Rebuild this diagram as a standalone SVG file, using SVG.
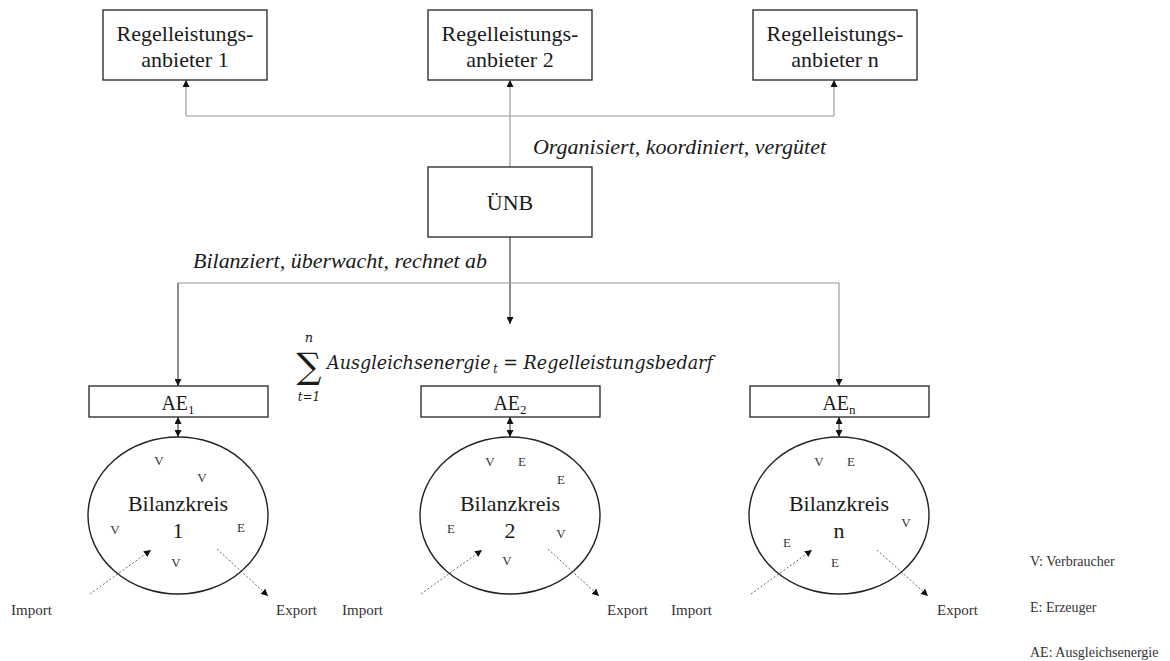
<svg xmlns="http://www.w3.org/2000/svg" width="1170" height="661" viewBox="0 0 1170 661">
  <style>
    .box { fill: #ffffff; stroke: #222222; stroke-width: 1.3; }
    .ring { fill: none; stroke: #222222; stroke-width: 1.4; }
    .t { font-family: "Liberation Serif", "Times New Roman", serif; fill: #1a1a1a; }
    .lbl { font-size: 22px; text-anchor: middle; }
    .it { font-size: 20px; font-style: italic; }
    .ae { font-size: 20px; text-anchor: middle; }
    .sm { font-size: 13px; text-anchor: middle; fill: #333333; }
    .io { font-size: 15px; fill: #333333; }
    .leg { font-size: 14px; fill: #333333; }
    .math { font-family: "DejaVu Serif", "Liberation Serif", serif; font-style: italic; fill: #1a1a1a; }
    .lnGray { fill: none; stroke: #9a9a9a; stroke-width: 1.2; }
    .lnDark { fill: none; stroke: #444444; stroke-width: 1.2; }
    .dash { fill: none; stroke: #666666; stroke-width: 1; stroke-dasharray: 2 2; }
  </style>
  <defs>
    <marker id="arrow" viewBox="0 0 10 10" refX="10" refY="5" markerWidth="7" markerHeight="7" markerUnits="userSpaceOnUse" orient="auto-start-reverse">
      <path d="M0,0 L10,5 L0,10 Z" fill="#111111"/>
    </marker>
  </defs>

  <!-- connectors -->
  <g id="connectors">
    <!-- ÜNB up to the providers -->
    <path class="lnGray" d="M510,167 V80" marker-end="url(#arrow)"/>
    <path class="lnGray" d="M186,116 H834"/>
    <path class="lnGray" d="M186,116 V80" marker-end="url(#arrow)"/>
    <path class="lnGray" d="M834,116 V80" marker-end="url(#arrow)"/>
    <!-- ÜNB down to the balancing groups -->
    <path class="lnDark" d="M510,237 V324" marker-end="url(#arrow)"/>
    <path class="lnGray" d="M178,283 H839"/>
    <path class="lnDark" d="M178,283 V386" marker-end="url(#arrow)"/>
    <path class="lnGray" d="M839,283 V386" marker-end="url(#arrow)"/>
    <!-- AE boxes to Bilanzkreis -->
    <path class="lnDark" d="M178,417 V437" marker-start="url(#arrow)" marker-end="url(#arrow)"/>
    <path class="lnDark" d="M510,417 V437" marker-start="url(#arrow)" marker-end="url(#arrow)"/>
    <path class="lnDark" d="M839,417 V437" marker-start="url(#arrow)" marker-end="url(#arrow)"/>
    <!-- import / export -->
    <path class="dash" d="M90,594 L151,550" marker-end="url(#arrow)"/>
    <path class="dash" d="M217,549 L268,596" marker-end="url(#arrow)"/>
    <path class="dash" d="M421,594 L482,550" marker-end="url(#arrow)"/>
    <path class="dash" d="M548,549 L599,596" marker-end="url(#arrow)"/>
    <path class="dash" d="M751,594 L812,550" marker-end="url(#arrow)"/>
    <path class="dash" d="M877,550 L928,596" marker-end="url(#arrow)"/>
  </g>

  <!-- providers -->
  <g id="anbieter1">
    <rect class="box" x="103" y="10" width="164" height="70"/>
    <text class="t lbl" x="185" y="41">Regelleistungs-</text>
    <text class="t lbl" x="185" y="67">anbieter 1</text>
  </g>
  <g id="anbieter2">
    <rect class="box" x="428" y="10" width="164" height="70"/>
    <text class="t lbl" x="510" y="41">Regelleistungs-</text>
    <text class="t lbl" x="510" y="67">anbieter 2</text>
  </g>
  <g id="anbietern">
    <rect class="box" x="753" y="10" width="164" height="70"/>
    <text class="t lbl" x="835" y="41">Regelleistungs-</text>
    <text class="t lbl" x="835" y="67">anbieter n</text>
  </g>

  <text class="t it" x="533" y="154" textLength="293" lengthAdjust="spacingAndGlyphs">Organisiert, koordiniert, vergütet</text>

  <g id="uenb">
    <rect class="box" x="428" y="167" width="164" height="70"/>
    <text class="t lbl" x="510" y="210">ÜNB</text>
  </g>

  <text class="t it" x="193" y="268" textLength="294" lengthAdjust="spacingAndGlyphs">Bilanziert, überwacht, rechnet ab</text>

  <!-- balance equation -->
  <g id="formel">
    <text class="math" x="309" y="342" font-size="13" text-anchor="middle">n</text>
    <text x="309" y="378" font-family="DejaVu Serif, serif" font-size="35" text-anchor="middle" fill="#1a1a1a">∑</text>
    <text class="math" x="309" y="401" font-size="12" text-anchor="middle">t=1</text>
    <text class="math" x="327" y="369" font-size="19" textLength="386" lengthAdjust="spacingAndGlyphs">Ausgleichsenergie<tspan font-size="12" dx="3" dy="4">t</tspan><tspan dy="-4"> = Regelleistungsbedarf</tspan></text>
  </g>

  <!-- balancing energy boxes -->
  <g id="ae1">
    <rect class="box" x="89" y="386" width="179" height="31"/>
    <text class="t ae" x="178" y="410">AE<tspan font-size="13" dy="4">1</tspan></text>
  </g>
  <g id="ae2">
    <rect class="box" x="421" y="386" width="179" height="31"/>
    <text class="t ae" x="510" y="410">AE<tspan font-size="13" dy="4">2</tspan></text>
  </g>
  <g id="aen">
    <rect class="box" x="750" y="386" width="179" height="31"/>
    <text class="t ae" x="839" y="410">AE<tspan font-size="13" dy="4">n</tspan></text>
  </g>

  <!-- balancing groups -->
  <g id="bilanzkreis1">
    <ellipse class="ring" cx="178" cy="515.5" rx="90" ry="78.5"/>
    <text class="t lbl" x="178" y="511">Bilanzkreis</text>
    <text class="t lbl" x="178" y="538">1</text>
    <text class="t sm" x="159" y="465">V</text>
    <text class="t sm" x="202" y="482">V</text>
    <text class="t sm" x="115" y="534">V</text>
    <text class="t sm" x="241" y="532">E</text>
    <text class="t sm" x="176" y="567">V</text>
  </g>
  <g id="bilanzkreis2">
    <ellipse class="ring" cx="510" cy="515.5" rx="90" ry="78.5"/>
    <text class="t lbl" x="510" y="511">Bilanzkreis</text>
    <text class="t lbl" x="510" y="538">2</text>
    <text class="t sm" x="490" y="466">V</text>
    <text class="t sm" x="522" y="466">E</text>
    <text class="t sm" x="561" y="484">E</text>
    <text class="t sm" x="451" y="533">E</text>
    <text class="t sm" x="561" y="538">V</text>
    <text class="t sm" x="507" y="565">V</text>
  </g>
  <g id="bilanzkreisn">
    <ellipse class="ring" cx="839" cy="515.5" rx="90" ry="78.5"/>
    <text class="t lbl" x="839" y="511">Bilanzkreis</text>
    <text class="t lbl" x="839" y="538">n</text>
    <text class="t sm" x="819" y="466">V</text>
    <text class="t sm" x="851" y="466">E</text>
    <text class="t sm" x="906" y="527">V</text>
    <text class="t sm" x="787" y="547">E</text>
    <text class="t sm" x="835" y="567">E</text>
  </g>

  <!-- import / export labels -->
  <text class="t io" x="11" y="615">Import</text>
  <text class="t io" x="276" y="615">Export</text>
  <text class="t io" x="342" y="615">Import</text>
  <text class="t io" x="607" y="615">Export</text>
  <text class="t io" x="671" y="615">Import</text>
  <text class="t io" x="937" y="615">Export</text>

  <!-- legend -->
  <g id="legende">
    <text class="t leg" x="1030" y="566">V: Verbraucher</text>
    <text class="t leg" x="1030" y="612">E: Erzeuger</text>
    <text class="t leg" x="1030" y="657">AE: Ausgleichsenergie</text>
  </g>
</svg>
